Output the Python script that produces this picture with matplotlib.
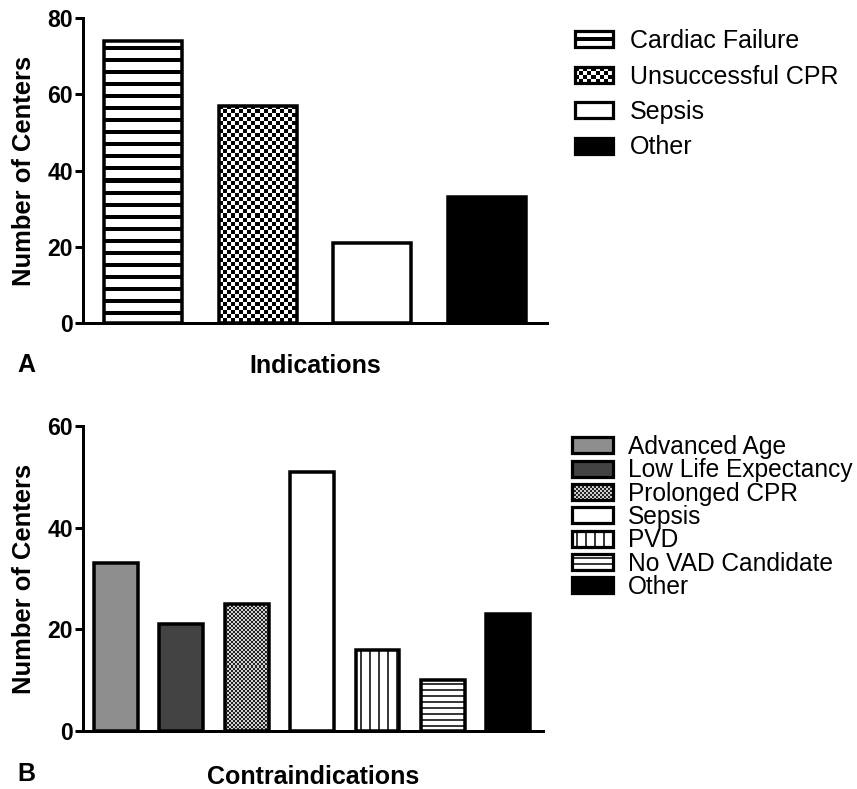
import matplotlib
matplotlib.use("Agg")
import matplotlib.pyplot as plt
import numpy as np
from matplotlib.colors import to_rgb
from matplotlib.image import BboxImage
from matplotlib.legend_handler import HandlerBase
from matplotlib.patches import Rectangle
from matplotlib.transforms import Bbox, TransformedBbox

# indications (panel A)
ind_labels = ["Cardiac Failure", "Unsuccessful CPR", "Sepsis", "Other"]
ind_values = [74, 57, 21, 33]

# contraindications (panel B)
contra_labels = ["Advanced Age", "Low Life Expectancy", "Prolonged CPR", "Sepsis",
                 "PVD", "No VAD Candidate", "Other"]
contra_values = [33, 21, 25, 51, 16, 10, 23]

# fill for each bar: (pattern, background colour, ink colour)
ind_fills = [("hlines", "white", "black"), ("checker", "white", "black"),
             ("solid", "white", None), ("solid", "black", None)]
contra_fills = [("solid", "#8e8e8e", None), ("solid", "#434343", None),
                ("fine_checker", "#d0d0d0", "#222222"), ("solid", "white", None),
                ("vlines", "white", "#3a3a3a"), ("thin_hlines", "white", "#3a3a3a"),
                ("solid", "black", None)]

plt.rcParams["font.family"] = ["Liberation Sans", "DejaVu Sans"]

DPI = 72
EDGE_LW = 3.5


def pattern_image(fill, h, w):
    """RGB array (h x w pixels) for one of the bar fill patterns."""
    kind, bg, ink = fill
    h, w = max(int(round(h)), 1), max(int(round(w)), 1)
    yy, xx = np.mgrid[0:h, 0:w]
    if kind == "hlines":
        mask = ((yy + 6) % 12) < 4
    elif kind == "thin_hlines":
        mask = ((yy + 3) % 6) < 2
    elif kind == "vlines":
        mask = ((xx + 5) % 9) < 2
    elif kind == "checker":
        mask = ((yy // 4 + xx // 4) % 2) == 0
    elif kind == "fine_checker":
        mask = ((yy // 2 + xx // 2) % 2) == 0
    else:
        mask = np.zeros((h, w), dtype=bool)
    img = np.empty((h, w, 3))
    img[:] = to_rgb(bg)
    if ink is not None:
        img[mask] = to_rgb(ink)
    return img


class PatternHandler(HandlerBase):
    def __init__(self, fill):
        super().__init__()
        self.fill = fill

    def create_artists(self, legend, orig_handle, xdescent, ydescent, width, height,
                       fontsize, trans):
        box = Bbox.from_bounds(-xdescent, -ydescent, width, height)
        img = BboxImage(TransformedBbox(box, trans), interpolation="nearest")
        img.set_data(pattern_image(self.fill, height, width))
        rect = Rectangle((-xdescent, -ydescent), width, height, facecolor="none",
                         edgecolor="black", linewidth=3.2, transform=trans)
        return [img, rect]


def draw_panel(ax, labels, values, fills, width, ymax, xlim, xlabel, xpad):
    ax.set_xlim(*xlim)
    ax.set_ylim(0, ymax)
    handles = []
    for i, (val, fill) in enumerate(zip(values, fills)):
        bar = ax.bar(i, val, width=width, facecolor="none", edgecolor="black",
                     linewidth=EDGE_LW, clip_on=False, zorder=3)[0]
        # pattern drawn underneath the outline, sized to the bar in pixels
        (x0, y0), (x1, y1) = ax.transData.transform(
            [[bar.get_x(), 0], [bar.get_x() + bar.get_width(), bar.get_height()]])
        img = BboxImage(TransformedBbox(bar.get_bbox(), ax.transData),
                        interpolation="nearest", zorder=2)
        img.set_data(pattern_image(fill, y1 - y0, x1 - x0))
        ax.add_artist(img)
        handles.append(bar)
    ax.set_yticks(range(0, ymax + 1, 20))
    ax.set_xticks([])
    for s in ("top", "right"):
        ax.spines[s].set_visible(False)
    for s in ("left", "bottom"):
        ax.spines[s].set_linewidth(3)
    ax.tick_params(axis="y", length=8, width=3, labelsize=23, pad=2)
    for t in ax.get_yticklabels():
        t.set_fontweight("bold")
    ax.set_ylabel("Number of Centers", fontsize=25.5, fontweight="bold", labelpad=11)
    ax.set_xlabel(xlabel, fontsize=25, fontweight="bold", labelpad=xpad)
    return handles, {h: PatternHandler(f) for h, f in zip(handles, fills)}


fig = plt.figure(figsize=(857 / DPI, 789 / DPI), dpi=DPI)

ax1 = fig.add_axes([83 / 857, 1 - 323 / 789, 464 / 857, 305 / 789])
h1, hmap1 = draw_panel(ax1, ind_labels, ind_values, ind_fills, 0.68, 80,
                       (-0.52, 3.52), "Indications", 31)
ax1.legend(h1, ind_labels, handler_map=hmap1, loc="upper left",
           bbox_to_anchor=(575 / 857, 1 - 29 / 789), bbox_transform=fig.transFigure,
           frameon=False, fontsize=25, handlelength=1.53, handleheight=0.6,
           handletextpad=0.68, labelspacing=0.46, borderpad=0, borderaxespad=0)

ax2 = fig.add_axes([83 / 857, 1 - 731 / 789, 460 / 857, 305 / 789])
h2, hmap2 = draw_panel(ax2, contra_labels, contra_values, contra_fills, 0.67, 60,
                       (-0.5, 6.53), "Contraindications", 34)
ax2.legend(h2, contra_labels, handler_map=hmap2, loc="upper left",
           bbox_to_anchor=(572 / 857, 1 - 435 / 789), bbox_transform=fig.transFigure,
           frameon=False, fontsize=24.5, handlelength=1.66, handleheight=0.62,
           handletextpad=0.62, labelspacing=-0.027, borderpad=0, borderaxespad=0)

fig.text(17 / 857, 1 - 365 / 789, "A", fontsize=25, fontweight="bold", va="center")
fig.text(17 / 857, 1 - 774 / 789, "B", fontsize=25, fontweight="bold", va="center")

fig.savefig("out.png", dpi=DPI)
